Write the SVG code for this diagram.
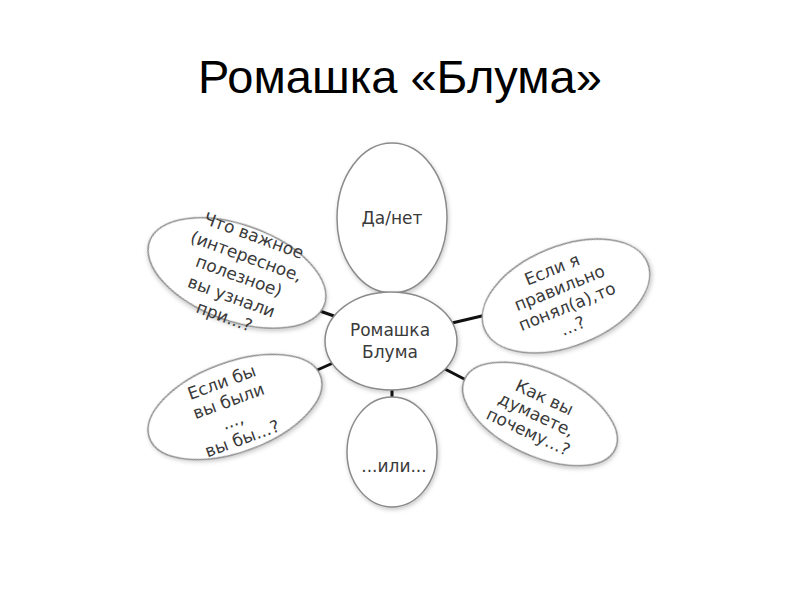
<svg xmlns="http://www.w3.org/2000/svg" width="800" height="600" viewBox="0 0 800 600">
<defs>
<filter id="sh" x="-20%" y="-20%" width="140%" height="140%">
<feDropShadow dx="1" dy="2" stdDeviation="2" flood-color="#000" flood-opacity="0.22"/>
</filter>
</defs>
<style>
.title{font-family:"Liberation Sans",Arial,sans-serif;font-size:47px;fill:#000;text-anchor:middle}
.node{fill:#fff;stroke:#8a8a8a;stroke-width:1.5;filter:url(#sh)}
.lbl{font-family:"DejaVu Sans",Verdana,sans-serif;font-size:17px;fill:#3a3a3a;text-anchor:middle}
.conn line{stroke:#111;stroke-width:3;stroke-linecap:butt}
</style>
<rect width="800" height="600" fill="#fff"/>
<text class="title" x="400" y="93">Ромашка «Блума»</text>

<g id="connectors" class="conn">
<line x1="391" y1="290" x2="391" y2="295"/>
<line x1="392" y1="389" x2="392" y2="399"/>
<line x1="317" y1="310" x2="334" y2="316"/>
<line x1="452" y1="323" x2="486" y2="315"/>
<line x1="315" y1="371" x2="333" y2="363"/>
<line x1="443" y1="368" x2="468" y2="381"/>
</g>

<g id="node-top">
<ellipse class="node" cx="392" cy="218" rx="55" ry="75"/>
<text class="lbl" x="392" y="224">Да/нет</text>
</g>

<g id="node-center">
<ellipse class="node" cx="391" cy="341" rx="66" ry="49"/>
<text class="lbl" x="390" y="336">Ромашка</text>
<text class="lbl" x="390" y="358">Блума</text>
</g>

<g id="node-bottom">
<ellipse class="node" cx="392" cy="452" rx="45" ry="55"/>
<text class="lbl" x="394" y="472">...или...</text>
</g>

<g id="node-upper-left" transform="rotate(20 237 273)">
<ellipse class="node" cx="237" cy="273" rx="93" ry="48"/>
<text class="lbl" x="240" y="238">Что важное</text>
<text class="lbl" x="240" y="260">(интересное,</text>
<text class="lbl" x="240" y="281">полезное)</text>
<text class="lbl" x="240" y="303">вы узнали</text>
<text class="lbl" x="240" y="324">при...?</text>
</g>

<g id="node-upper-right" transform="rotate(-22 566 296)">
<ellipse class="node" cx="566" cy="296" rx="88" ry="50"/>
<text class="lbl" x="563" y="272">Если я</text>
<text class="lbl" x="563" y="292">правильно</text>
<text class="lbl" x="563" y="312">понял(а),то</text>
<text class="lbl" x="561" y="332">...?</text>
</g>

<g id="node-lower-left" transform="rotate(-20 235 407)">
<ellipse class="node" cx="235" cy="407" rx="91" ry="45"/>
<text class="lbl" x="231" y="385">Если бы</text>
<text class="lbl" x="231" y="405">вы были</text>
<text class="lbl" x="228" y="425">...,</text>
<text class="lbl" x="231" y="445">вы бы...?</text>
</g>

<g id="node-lower-right" transform="rotate(25 540 414)">
<ellipse class="node" cx="540" cy="414" rx="83" ry="42"/>
<text class="lbl" x="537" y="403">Как вы</text>
<text class="lbl" x="537" y="422">думаете,</text>
<text class="lbl" x="537" y="441">почему...?</text>
</g>
</svg>
